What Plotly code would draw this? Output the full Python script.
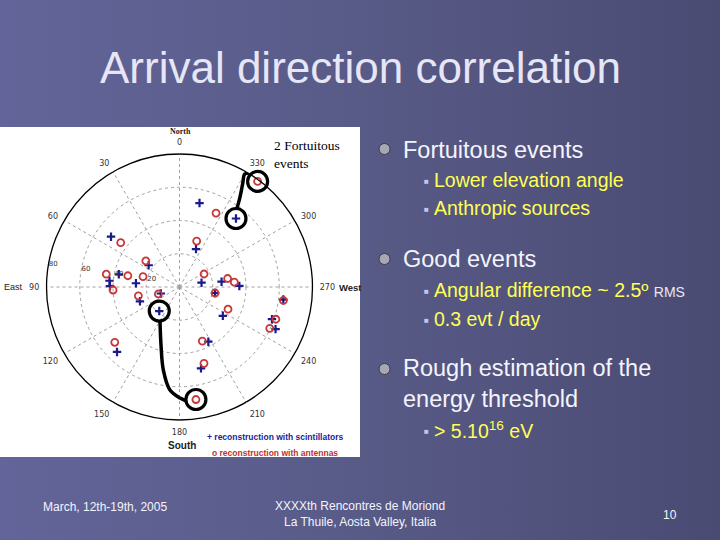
import plotly.graph_objects as go

# ---------------- data (zenith angle r in degrees, azimuth theta in degrees) -------------
scint_r = [51.9, 53.4, 24.9, 51.1, 22.7, 37.3, 26.3, 42.3, 41.8, 25.3, 11.9, 18.9,
           13.5, 25.5, 36.0, 21.7, 31.3, 62.9, 58.9, 63.1, 37.2, 50.6, 54.2]
scint_theta = [346.6, 320.5, 336.5, 53.7, 54.8, 78.2, 85.1, 84.9, 89.2, 109.9, 109.2, 139.9,
               281.1, 277.2, 271.0, 260.4, 236.4, 263.1, 250.8, 246.3, 207.8, 194.8, 136.1]

ant_r = [79.0, 49.6, 29.5, 44.3, 25.6, 44.7, 31.8, 22.8, 40.0, 25.3, 13.4, 16.7,
         29.4, 33.1, 21.7, 32.1, 63.0, 61.1, 59.7, 35.3, 48.2, 68.4, 51.2]
ant_theta = [323.5, 333.7, 339.5, 53.0, 52.3, 80.1, 77.7, 74.2, 92.6, 102.1, 108.3, 297.9,
             280.0, 275.0, 260.4, 245.4, 262.6, 251.5, 245.4, 202.9, 197.8, 188.3, 130.5]

# circled events: (series, index)
circled = [("ant", 0), ("scint", 1), ("scint", 11), ("ant", 21)]

# connector curves between circled events
conn_top_r = [80.8, 78.5, 73.0, 65.0, 58.2]
conn_top_theta = [328.1, 330.0, 328.6, 326.0, 323.7]
conn_bot_r = [23.6, 36.6, 50.9, 62.2, 66.8, 68.7]
conn_bot_theta = [150.2, 162.3, 169.0, 174.7, 180.3, 183.5]

ring_ticks = [20, 40, 60, 80]
azimuth_ticks = [0, 30, 60, 90, 120, 150, 180, 210, 240, 270, 300, 330]
azimuth_labels = [str(a) for a in azimuth_ticks]

W, H = 720, 540
def px(x):
    return x / W
def py(y):
    return 1 - y / H

# ---------------- figure ----------------
fig = go.Figure()

# slide background gradient
fig.add_trace(go.Scatter(
    x=[0, 1, 1, 0, 0], y=[0, 0, 1, 1, 0], mode="lines", fill="toself",
    line=dict(width=0), hoverinfo="skip", showlegend=False,
    fillgradient=dict(type="horizontal",
                      colorscale=[[0, "#63659a"], [0.55, "#575985"], [1, "#4a4b73"]]),
    xaxis="x", yaxis="y"))
# white panel behind the polar plot
fig.add_trace(go.Scatter(
    x=[0, px(360), px(360), 0, 0], y=[py(457), py(457), py(127), py(127), py(457)],
    mode="lines", fill="toself", fillcolor="white", line=dict(width=0),
    hoverinfo="skip", showlegend=False, xaxis="x", yaxis="y"))

# connectors
for rr, tt in [(conn_top_r, conn_top_theta), (conn_bot_r, conn_bot_theta)]:
    fig.add_trace(go.Scatterpolar(
        r=rr, theta=tt, mode="lines", line=dict(color="black", width=3.5, shape="spline"),
        cliponaxis=False, showlegend=False, hoverinfo="skip"))

# scintillator reconstruction
fig.add_trace(go.Scatterpolar(
    r=scint_r, theta=scint_theta, mode="markers", name="scintillators",
    marker=dict(symbol="cross-thin", size=6, line=dict(color="#1a1a8a", width=2.2),
                color="#1a1a8a"),
    showlegend=False))
# antenna reconstruction
fig.add_trace(go.Scatterpolar(
    r=ant_r, theta=ant_theta, mode="markers", name="antennas",
    marker=dict(symbol="circle-open", size=7, line=dict(color="#c83838", width=1.8),
                color="#c83838"),
    cliponaxis=False, showlegend=False))

# circled events
hr, ht = [], []
for s, i in circled:
    if s == "ant":
        hr.append(ant_r[i]); ht.append(ant_theta[i])
    else:
        hr.append(scint_r[i]); ht.append(scint_theta[i])
fig.add_trace(go.Scatterpolar(
    r=hr, theta=ht, mode="markers",
    marker=dict(symbol="circle-open", size=20, line=dict(color="black", width=3.2),
                color="black"),
    cliponaxis=False, showlegend=False, hoverinfo="skip"))

cx, cy, rad = 179.5, 287, 133
fig.update_layout(
    width=W, height=H, margin=dict(l=0, r=0, t=0, b=0),
    paper_bgcolor="#575985", plot_bgcolor="rgba(0,0,0,0)",
    xaxis=dict(domain=[0, 1], range=[0, 1], visible=False, fixedrange=True),
    yaxis=dict(domain=[0, 1], range=[0, 1], visible=False, fixedrange=True),
    polar=dict(
        domain=dict(x=[px(cx - rad), px(cx + rad)], y=[py(cy + rad), py(cy - rad)]),
        bgcolor="white",
        angularaxis=dict(
            direction="counterclockwise", rotation=90,
            tickmode="array", tickvals=azimuth_ticks, ticktext=azimuth_labels,
            showline=True, linecolor="black", linewidth=1.3,
            showgrid=True, gridcolor="#a0a0a0", griddash="dot", gridwidth=1,
            ticks="outside", ticklen=5, tickcolor="white",
            tickfont=dict(family="DejaVu Sans", size=8, color="#333333")),
        radialaxis=dict(
            range=[0, 80], tickmode="array", tickvals=ring_ticks,
            angle=171, tickangle=171, showline=False, ticks="",
            showgrid=True, gridcolor="#a0a0a0", griddash="dot", gridwidth=1,
            tickfont=dict(family="DejaVu Sans", size=7, color="#333333")),
    ),
)

ann = []
def text(x, y, t, size, color, family="Liberation Sans", xanchor="left", yanchor="middle", **kw):
    ann.append(dict(x=px(x), y=py(y), xref="paper", yref="paper", text=t, showarrow=False,
                    xanchor=xanchor, yanchor=yanchor,
                    font=dict(family=family, size=size, color=color), **kw))

# title
text(360, 68, "Arrival direction correlation", 44, "#e6e6f6", xanchor="center")

# compass labels
text(180, 131, "<b>North</b>", 8, "#222222", family="Liberation Serif", xanchor="center")
text(13.5, 287, "East", 9, "#222222", xanchor="center")
text(350, 287, "<b>West</b>", 9.5, "#222222", xanchor="center")
text(182, 445, "<b>South</b>", 10, "#222222", xanchor="center")

# figure notes
text(272, 154, "2 Fortuitous<br>events", 13.5, "black", family="Liberation Serif",
     align="left")
text(205, 437, "<b>+ reconstruction with scintillators</b>", 8.5, "#1c1c9a")
text(210, 453, "<b>o reconstruction with antennas</b>", 8.5, "#c03030")

# bullets
white = "#f4f4fc"
yellow = "#ffff55"
text(401, 150, "Fortuitous events", 23.5, white)
text(432, 180, "Lower elevation angle", 19.5, yellow)
text(432, 208, "Anthropic sources", 19.5, yellow)
text(401, 259, "Good events", 23.5, white)
text(432, 290, "Angular difference ~ 2.5º <span style='font-size:14px;color:#e8e8f4'>RMS</span>",
     19.5, yellow)
text(432, 319, "0.3 evt / day", 19.5, yellow)
text(401, 383, "Rough estimation of the<br>energy threshold", 23.5, white, align="left")
text(432, 430, "> 5.10<sup>16</sup> eV", 19.5, yellow)
for yy in [181, 209, 291, 320, 431]:
    text(426, yy, "■", 8, "#c4c4ee", xanchor="center")

# footer
text(105, 507, "March, 12th-19th, 2005", 12, white, xanchor="center")
text(360, 514, "XXXXth Rencontres de Moriond<br>La Thuile, Aosta Valley, Italia", 12, white,
     xanchor="center")
text(670, 515, "10", 12, white, xanchor="center")

fig.update_layout(annotations=ann)

# big bullet spheres
shapes = []
for yy in [149, 259, 369]:
    shapes.append(dict(type="circle", xref="paper", yref="paper",
                       x0=px(379), x1=px(390), y0=py(yy + 5.5), y1=py(yy - 5.5),
                       fillcolor="#a8a8b4", line=dict(color="#3a3a48", width=1)))
fig.update_layout(shapes=shapes)

fig.write_html("out.html", config={"displayModeBar": False},
               post_script="document.body.style.margin='0px';")
